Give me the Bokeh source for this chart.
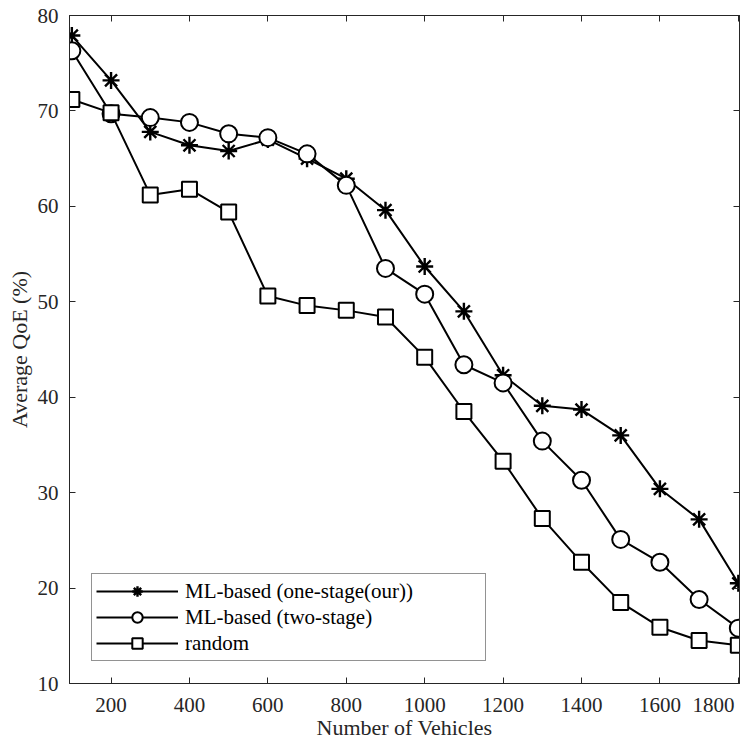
from bokeh.plotting import figure
from bokeh.models import LinearAxis, FixedTicker, Range1d, Legend, LegendItem
from bokeh.embed import file_html
from bokeh.resources import INLINE

vehicles = [100, 200, 300, 400, 500, 600, 700, 800, 900, 1000,
            1100, 1200, 1300, 1400, 1500, 1600, 1700, 1800]
one_stage = [77.9, 73.2, 67.8, 66.4, 65.8, 67.0, 65.0, 62.9, 59.6, 53.7,
             49.0, 42.3, 39.1, 38.7, 36.0, 30.4, 27.2, 20.5]
two_stage = [76.3, 69.7, 69.3, 68.8, 67.6, 67.2, 65.5, 62.2, 53.5, 50.8,
             43.4, 41.5, 35.4, 31.3, 25.1, 22.7, 18.8, 15.8]
random_sel = [71.2, 69.8, 61.2, 61.8, 59.4, 50.6, 49.6, 49.1, 48.4, 44.2,
              38.5, 33.3, 27.3, 22.7, 18.5, 15.9, 14.5, 14.0]
labels = ["ML-based (one-stage(our))", "ML-based (two-stage)", "random"]
x_ticks = [200, 400, 600, 800, 1000, 1200, 1400, 1600, 1800]
y_ticks = [10, 20, 30, 40, 50, 60, 70, 80]

FONT = "Liberation Serif"
DARK = "#262626"

p = figure(width=755, height=742, output_backend="svg", toolbar_location=None,
           x_range=Range1d(94, 1803), y_range=Range1d(10, 80),
           min_border_left=69, min_border_right=16, min_border_top=15,
           min_border_bottom=58)
p.grid.visible = False
p.outline_line_color = DARK
p.outline_line_width = 1
p.background_fill_color = "white"
p.border_fill_color = "white"

def style_axis(ax, ticks, show_labels):
    ax.ticker = FixedTicker(ticks=ticks)
    ax.major_tick_in = 6
    ax.major_tick_out = 0
    ax.minor_tick_line_color = None
    ax.axis_line_color = DARK
    ax.major_tick_line_color = DARK
    ax.major_label_text_font = FONT
    if show_labels:
        ax.major_label_text_font_size = "21px"
        ax.major_label_text_color = DARK
    else:
        ax.major_label_text_font_size = "0px"
        ax.major_label_text_color = None
        ax.major_label_standoff = 0

style_axis(p.xaxis[0], x_ticks, True)
style_axis(p.yaxis[0], y_ticks, True)
# all x labels given as text; trailing spaces keep the last one inside the window
x_label_text = {t: str(t) for t in x_ticks}
x_label_text[x_ticks[-1]] = str(x_ticks[-1]) + "    "
p.xaxis[0].major_label_overrides = x_label_text
p.xaxis[0].axis_label = "Number of Vehicles"
p.yaxis[0].axis_label = "Average QoE (%)"
for ax in (p.xaxis[0], p.yaxis[0]):
    ax.axis_label_text_font = FONT
    ax.axis_label_text_font_size = "22px"
    ax.axis_label_text_font_style = "normal"
    ax.axis_label_text_color = DARK
p.xaxis[0].major_label_standoff = 9
p.xaxis[0].axis_label_standoff = -5
p.yaxis[0].major_label_standoff = 11
p.yaxis[0].axis_label_standoff = 3

top_ax = LinearAxis()
right_ax = LinearAxis()
style_axis(top_ax, x_ticks, False)
style_axis(right_ax, y_ticks, False)
p.add_layout(top_ax, "above")
p.add_layout(right_ax, "right")

l1 = p.line(vehicles, one_stage, line_color="black", line_width=2)
m1 = p.scatter(vehicles, one_stage, marker="asterisk", size=17,
               line_color="black", line_width=2.4)
l2 = p.line(vehicles, two_stage, line_color="black", line_width=2)
m2 = p.scatter(vehicles, two_stage, marker="circle", size=17,
               line_color="black", fill_color="white", line_width=2)
l3 = p.line(vehicles, random_sel, line_color="black", line_width=2)
m3 = p.scatter(vehicles, random_sel, marker="square", size=15,
               line_color="black", fill_color="white", line_width=2)

legend = Legend(items=[
    LegendItem(label=labels[0], renderers=[l1, m1]),
    LegendItem(label=labels[1], renderers=[l2, m2]),
    LegendItem(label=labels[2], renderers=[l3, m3]),
], location=(22, 22))
legend.label_text_font = FONT
legend.label_text_font_size = "21px"
legend.label_text_color = "black"
legend.glyph_width = 82
legend.glyph_height = 26
legend.label_height = 26
legend.label_width = 296
legend.label_standoff = 7
legend.spacing = 0
legend.padding = 4
legend.margin = 0
legend.border_line_color = DARK
legend.border_line_width = 1
legend.background_fill_color = "white"
legend.background_fill_alpha = 1
p.add_layout(legend, "center")

open("out.html", "w").write(file_html(p, INLINE))
